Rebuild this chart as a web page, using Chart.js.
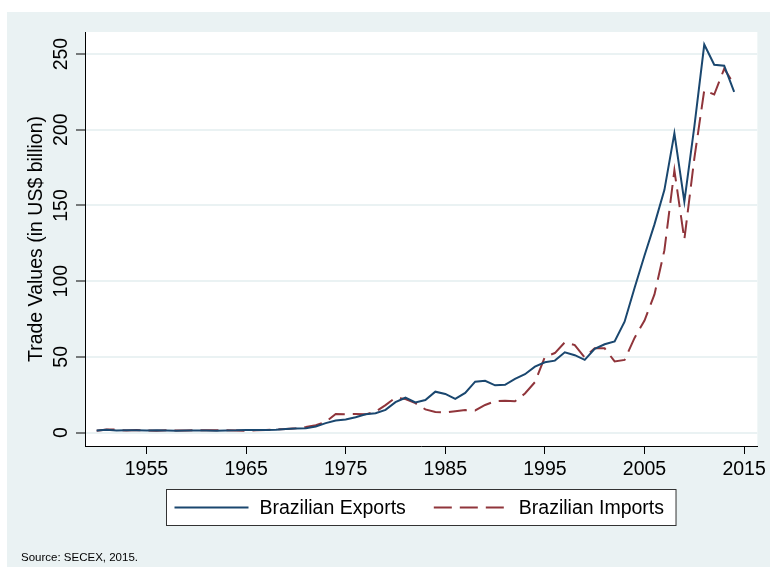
<!DOCTYPE html>
<html>
<head>
<meta charset="utf-8">
<script src="https://cdn.jsdelivr.net/npm/chart.js@4"></script>
<style>
  body { margin: 0; background: #fff; }
  canvas { display: block; }
</style>
</head>
<body>
<canvas id="tradeChart" width="770" height="567"></canvas>
<script>
const years = [1950, 1951, 1952, 1953, 1954, 1955, 1956, 1957, 1958, 1959,
  1960, 1961, 1962, 1963, 1964, 1965, 1966, 1967, 1968, 1969,
  1970, 1971, 1972, 1973, 1974, 1975, 1976, 1977, 1978, 1979,
  1980, 1981, 1982, 1983, 1984, 1985, 1986, 1987, 1988, 1989,
  1990, 1991, 1992, 1993, 1994, 1995, 1996, 1997, 1998, 1999,
  2000, 2001, 2002, 2003, 2004, 2005, 2006, 2007, 2008, 2009,
  2010, 2011, 2012, 2013, 2014];

const exportsBn = [1.36, 1.77, 1.42, 1.54, 1.56, 1.42, 1.48, 1.39, 1.24, 1.28,
  1.27, 1.40, 1.21, 1.41, 1.43, 1.60, 1.74, 1.65, 1.88, 2.31,
  2.74, 2.90, 3.99, 6.2, 7.95, 8.67, 10.1, 12.1, 12.7, 15.0,
  20.1, 23.0, 19.9, 21.5, 27.0, 25.5, 22.2, 26.2, 33.6, 34.2,
  31.2, 31.5, 35.5, 38.5, 43.5, 46.4, 47.5, 53.0, 51.1, 48.0,
  55.3, 58.3, 60.2, 73.2, 95.5, 117, 137.5, 160.3, 197.7, 152.6,
  201.9, 256.3, 243, 242.3, 225];

const importsBn = [1.1, 2.0, 2.0, 1.3, 1.6, 1.3, 1.2, 1.5, 1.35, 1.37,
  1.46, 1.46, 1.47, 1.49, 1.26, 1.1, 1.5, 1.67, 2.13, 2.27,
  2.85, 3.7, 4.8, 7.0, 12.3, 12.1, 12.3, 12.0, 13.7, 18.1,
  23.0, 22.1, 19.4, 15.3, 13.6, 13.2, 14.0, 14.8, 14.6, 18.2,
  20.7, 21.0, 20.6, 25.8, 33.3, 50.0, 52.5, 59.6, 57.8, 49.6,
  55.7, 55.6, 47.0, 48.0, 62.5, 74, 91.2, 120.5, 173.2, 127.5,
  181, 226.2, 223.3, 240.3, 230];

const xTicks = [1955, 1965, 1975, 1985, 1995, 2005, 2015];
const yTicks = [0, 50, 100, 150, 200, 250];

const FONT = "'Liberation Sans', Arial, sans-serif";
const BG = "#eaf2f3";
const NAVY = "#1a476f";
const MAROON = "#90353b";

// outer Stata-like background + white plot region
const backdrop = {
  id: "backdrop",
  beforeDraw(chart) {
    const { ctx, chartArea: a } = chart;
    ctx.save();
    ctx.fillStyle = "#fff";
    ctx.fillRect(0, 0, chart.width, chart.height);
    ctx.fillStyle = BG;
    ctx.fillRect(7, 12, chart.width - 7, chart.height - 12);
    ctx.fillStyle = "#fff";
    ctx.fillRect(a.left, a.top, a.right - a.left, a.bottom - a.top);
    ctx.restore();
  }
};

// boxed legend under the x axis, plus source note
const boxLegend = {
  id: "boxLegend",
  afterDraw(chart) {
    const { ctx, chartArea: a } = chart;
    const sets = chart.data.datasets;
    ctx.save();
    ctx.font = "19.5px " + FONT;
    const sample = 74, gapText = 11, gapItem = 28, padL = 8, padR = 12;
    const widths = sets.map(d => ctx.measureText(d.label).width);
    const total = padL + padR + sets.length * (sample + gapText) + widths.reduce((s, w) => s + w, 0) + gapItem * (sets.length - 1);
    const left = Math.round((a.left + a.right) / 2 - total / 2) + 0.5;
    const top = 489.5, h = 36;
    ctx.fillStyle = "#fff";
    ctx.fillRect(left, top, total, h);
    ctx.strokeStyle = "#333";
    ctx.lineWidth = 1;
    ctx.strokeRect(left, top, total, h);
    let x = left + padL;
    const cy = top + h / 2;
    sets.forEach((d, i) => {
      ctx.strokeStyle = d.borderColor;
      ctx.lineWidth = d.borderWidth;
      ctx.setLineDash(d.borderDash || []);
      ctx.beginPath();
      ctx.moveTo(x, cy);
      ctx.lineTo(x + sample, cy);
      ctx.stroke();
      ctx.setLineDash([]);
      x += sample + gapText;
      ctx.fillStyle = "#000";
      ctx.textBaseline = "middle";
      ctx.fillText(d.label, x, cy + 1);
      x += widths[i] + gapItem;
    });
    ctx.font = "11.5px " + FONT;
    ctx.fillStyle = "#000";
    ctx.fillText("Source: SECEX, 2015.", 21, 558);
    ctx.restore();
  }
};

new Chart(document.getElementById("tradeChart"), {
  type: "line",
  data: {
    datasets: [{
      label: "Brazilian Exports",
      data: years.map((y, i) => ({ x: y, y: exportsBn[i] })),
      borderColor: NAVY,
      borderWidth: 2,
      pointRadius: 0,
      fill: false
    }, {
      label: "Brazilian Imports",
      data: years.map((y, i) => ({ x: y, y: importsBn[i] })),
      borderColor: MAROON,
      borderWidth: 2,
      borderDash: [18, 8],
      pointRadius: 0,
      fill: false
    }]
  },
  options: {
    responsive: false,
    animation: false,
    layout: { padding: { left: 7, top: 32, right: 10, bottom: 81 } },
    plugins: {
      legend: { display: false },
      tooltip: { enabled: false }
    },
    scales: {
      x: {
        type: "linear",
        min: 1948.83,
        max: 2016.33,
        afterBuildTicks: s => { s.ticks = xTicks.map(v => ({ value: v })); },
        afterFit: s => { s.height = 40; },
        grid: { drawOnChartArea: false, tickLength: 8, tickColor: "#000", tickWidth: 1 },
        border: { color: "#000", width: 1 },
        ticks: {
          color: "#000",
          padding: 4,
          maxRotation: 0,
          font: { family: FONT, size: 19.5 },
          callback: v => String(v)
        }
      },
      y: {
        min: -8.9,
        max: 264.6,
        afterBuildTicks: s => { s.ticks = yTicks.map(v => ({ value: v })); },
        afterFit: s => { s.width = 78; },
        grid: { color: BG, lineWidth: 2, tickLength: 9, tickColor: "#000", tickWidth: 1 },
        border: { color: "#000", width: 1 },
        ticks: {
          color: "#000",
          padding: -2,
          minRotation: 90,
          maxRotation: 90,
          crossAlign: "center",
          font: { family: FONT, size: 19.5 },
          callback: v => String(v)
        },
        title: {
          display: true,
          text: "Trade Values (in US$ billion)",
          color: "#000",
          padding: { top: 18, bottom: 0 },
          font: { family: FONT, size: 19.5 }
        }
      }
    }
  },
  plugins: [backdrop, boxLegend]
});
</script>
</body>
</html>
